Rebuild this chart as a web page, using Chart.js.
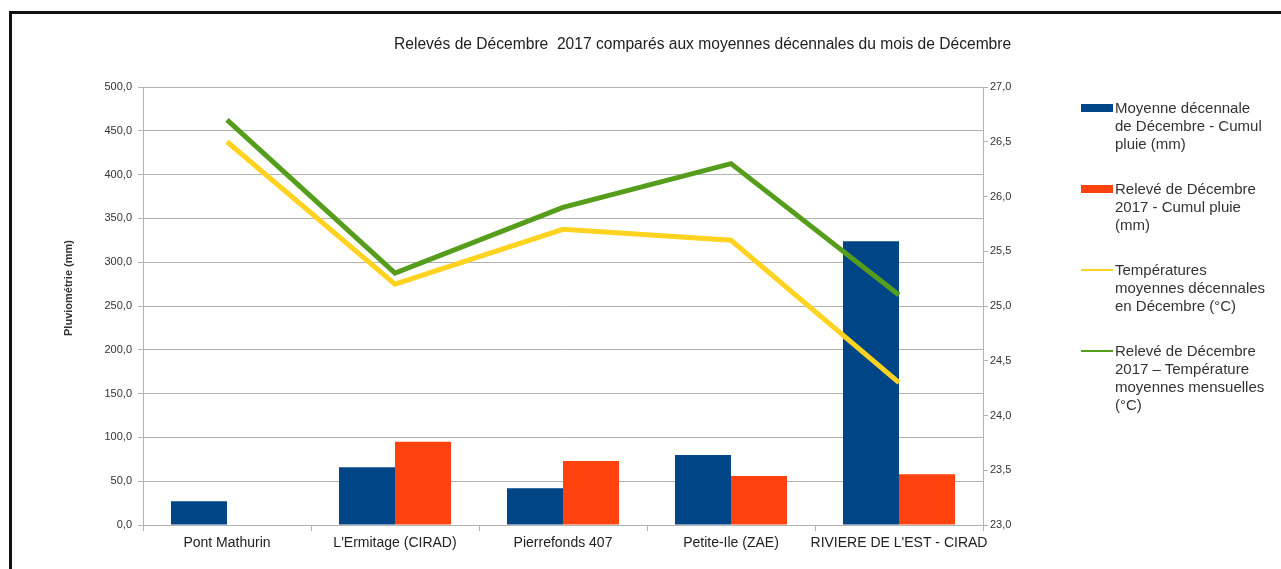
<!DOCTYPE html>
<html lang="fr">
<head>
  <meta charset="UTF-8" />
  <title>Relevés de Décembre 2017</title>
  <script src="https://cdn.jsdelivr.net/npm/chart.js@4"></script>
  <style>
    html, body {
      margin: 0;
      padding: 0;
      background: #fff;
      overflow: hidden;
    }
    #wrap {
      position: relative;
      width: 1281px;
      height: 569px;
      font-family: "Liberation Sans", Arial, sans-serif;
    }
    #frame {
      position: absolute;
      left: 9px;
      top: 11px;
      width: 1400px;
      height: 700px;
      border-left: 3px solid #111;
      border-top: 3px solid #111;
      pointer-events: none;
    }
    #chartTitle {
      position: absolute;
      top: 34px;
      left: 394px;
      width: 600px;
      text-align: center;
      font-size: 15.6px;
      color: #222;
      white-space: nowrap;
      line-height: 20px;
    }
    #axisTitle {
      position: absolute;
      left: 18px;
      top: 281px;
      width: 100px;
      text-align: center;
      font-size: 11px;
      font-weight: bold;
      line-height: 14px;
      color: #333;
      white-space: nowrap;
      transform: rotate(-90deg);
    }
    #legend {
      position: absolute;
      left: 1081px;
      top: 99px;
      font-size: 15px;
      line-height: 18px;
      color: #333;
    }
    .item {
      position: relative;
      padding-left: 34px;
      margin-bottom: 27px;
    }
    .swatch {
      position: absolute;
      left: 0;
      width: 32px;
    }
  </style>
</head>
<body>
  <div id="wrap">
    <canvas id="meteoChart" width="1281" height="569"></canvas>
    <div id="frame"></div>
    <div id="chartTitle">Relevés de Décembre&nbsp; 2017 comparés aux moyennes décennales du mois de Décembre</div>
    <div id="axisTitle">Pluviométrie (mm)</div>
    <div id="legend"></div>
  </div>

  <script>
    // Données
    const stations = ['Pont Mathurin', "L'Ermitage (CIRAD)", 'Pierrefonds 407', 'Petite-Ile (ZAE)', "RIVIERE DE L'EST - CIRAD"];
    const pluieMoyenne = [27, 66, 42, 80, 324];
    const pluie2017 = [null, 95, 73, 56, 58];
    const tempMoyenne = [26.5, 25.2, 25.7, 25.6, 24.3];
    const temp2017 = [26.7, 25.3, 25.9, 26.3, 25.1];

    const labelsLegende = [
      ['Moyenne décennale', 'de Décembre - Cumul', 'pluie (mm)'],
      ['Relevé de Décembre', '2017 - Cumul pluie', '(mm)'],
      ['Températures', 'moyennes décennales', 'en Décembre (°C)'],
      ['Relevé de Décembre', '2017 – Température', 'moyennes mensuelles', '(°C)']
    ];

    const BLEU = '#004586';
    const ORANGE = '#ff420e';
    const JAUNE = '#ffd320';
    const VERT = '#579d1c';
    const GRILLE = '#b3b3b3';
    const FONT = '"Liberation Sans", Arial, sans-serif';

    const virgule = v => Number(v).toFixed(1).replace('.', ',');

    const ctx = document.getElementById('meteoChart').getContext('2d');

    const meteoChart = new Chart(ctx, {
      type: 'bar',
      data: {
        labels: stations,
        datasets: [
          {
            type: 'line',
            label: labelsLegende[2].join(' '),
            data: tempMoyenne,
            borderColor: JAUNE,
            backgroundColor: JAUNE,
            borderWidth: 5,
            pointRadius: 0,
            tension: 0,
            yAxisID: 'y1',
            order: 0
          },
          {
            type: 'line',
            label: labelsLegende[3].join(' '),
            data: temp2017,
            borderColor: VERT,
            backgroundColor: VERT,
            borderWidth: 5,
            pointRadius: 0,
            tension: 0,
            yAxisID: 'y1',
            order: 0
          },
          {
            label: labelsLegende[0].join(' '),
            data: pluieMoyenne,
            backgroundColor: BLEU,
            yAxisID: 'y',
            categoryPercentage: 0.667,
            barPercentage: 1.0,
            order: 1
          },
          {
            label: labelsLegende[1].join(' '),
            data: pluie2017,
            backgroundColor: ORANGE,
            yAxisID: 'y',
            categoryPercentage: 0.667,
            barPercentage: 1.0,
            order: 1
          }
        ]
      },
      options: {
        responsive: false,
        animation: false,
        devicePixelRatio: 1,
        layout: {
          padding: { left: 0, right: 238, top: 87, bottom: 0 }
        },
        plugins: {
          legend: { display: false },
          title: { display: false },
          tooltip: { enabled: false }
        },
        scales: {
          x: {
            offset: true,
            grid: {
              offset: true,
              drawOnChartArea: false,
              drawTicks: true,
              tickLength: 6,
              color: GRILLE
            },
            border: { display: true, color: GRILLE },
            ticks: {
              color: '#222',
              padding: 4,
              maxRotation: 0,
              autoSkip: false,
              font: { family: FONT, size: 14 }
            },
            afterFit: axis => { axis.height = 44; }
          },
          y: {
            position: 'left',
            min: 0,
            max: 500,
            ticks: {
              stepSize: 50,
              color: '#333',
              padding: 6,
              font: { family: FONT, size: 11 },
              callback: v => virgule(v)
            },
            grid: { color: GRILLE, tickLength: 5 },
            border: { display: true, color: GRILLE },
            afterFit: axis => { axis.width = 143; }
          },
          y1: {
            position: 'right',
            min: 23,
            max: 27,
            ticks: {
              stepSize: 0.5,
              color: '#333',
              padding: 2,
              font: { family: FONT, size: 11 },
              callback: v => virgule(v)
            },
            grid: { drawOnChartArea: false, color: GRILLE, tickLength: 5 },
            border: { display: true, color: GRILLE },
            afterFit: axis => { axis.width = 60; }
          }
        }
      }
    });

    // Légende à droite, construite à partir des séries
    const legende = document.getElementById('legend');
    const styles = [
      { color: BLEU, h: 8, top: 5 },
      { color: ORANGE, h: 8, top: 5 },
      { color: JAUNE, h: 2, top: 8 },
      { color: VERT, h: 2, top: 8 }
    ];
    labelsLegende.forEach((lignes, i) => {
      const item = document.createElement('div');
      item.className = 'item';
      const sw = document.createElement('span');
      sw.className = 'swatch';
      sw.style.background = styles[i].color;
      sw.style.height = styles[i].h + 'px';
      sw.style.top = styles[i].top + 'px';
      item.appendChild(sw);
      lignes.forEach(t => {
        const l = document.createElement('div');
        l.textContent = t;
        item.appendChild(l);
      });
      legende.appendChild(item);
    });
  </script>
</body>
</html>
